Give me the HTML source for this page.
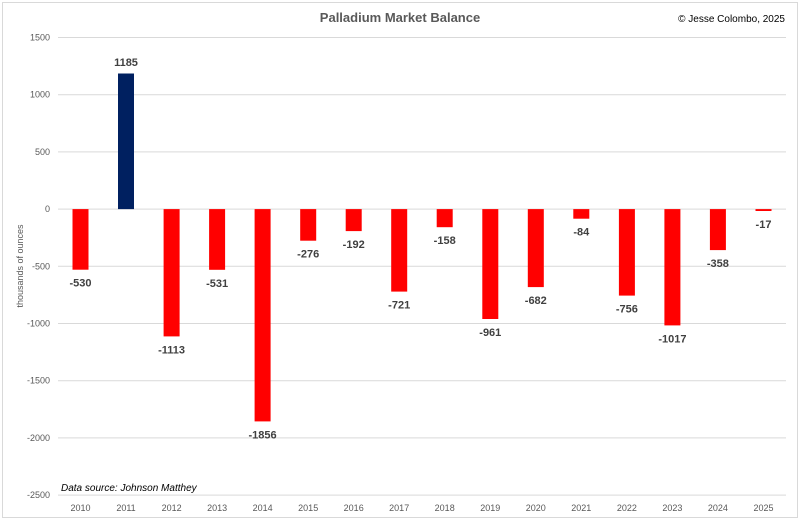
<!DOCTYPE html>
<html><head><meta charset="utf-8"><style>
html,body{margin:0;padding:0;background:#fff;}
svg{display:block;font-family:"Liberation Sans",Calibri,sans-serif;}
</style></head><body>
<svg width="800" height="520" viewBox="0 0 800 520" xmlns="http://www.w3.org/2000/svg">
<rect x="2.5" y="2.5" width="795" height="515" fill="#fff" stroke="#d9d9d9" stroke-width="1"/>
<text x="400" y="22" text-anchor="middle" font-size="13" font-weight="bold" fill="#595959">Palladium Market Balance</text>
<text x="785" y="22" text-anchor="end" font-size="10" fill="#000">© Jesse Colombo, 2025</text>
<g stroke="#d9d9d9" stroke-width="1">
<line x1="58" x2="786" y1="37.5" y2="37.5"/>
<line x1="58" x2="786" y1="94.7" y2="94.7"/>
<line x1="58" x2="786" y1="151.9" y2="151.9"/>
<line x1="58" x2="786" y1="209.1" y2="209.1"/>
<line x1="58" x2="786" y1="266.3" y2="266.3"/>
<line x1="58" x2="786" y1="323.5" y2="323.5"/>
<line x1="58" x2="786" y1="380.7" y2="380.7"/>
<line x1="58" x2="786" y1="437.9" y2="437.9"/>
<line x1="58" x2="786" y1="495.1" y2="495.1"/>
</g>
<g font-size="9" fill="#595959" text-anchor="end">
<text x="50" y="40.5">1500</text><text x="50" y="97.7">1000</text><text x="50" y="154.9">500</text>
<text x="50" y="212.1">0</text><text x="50" y="269.3">-500</text><text x="50" y="326.5">-1000</text>
<text x="50" y="383.7">-1500</text><text x="50" y="440.9">-2000</text><text x="50" y="498.1">-2500</text>
</g>
<text transform="translate(23,266) rotate(-90)" text-anchor="middle" font-size="9" fill="#595959">thousands of ounces</text>
<text x="61" y="491" font-size="10" font-style="italic" fill="#000">Data source: Johnson Matthey</text>
<g fill="#ff0000">
<rect x="72.5" y="209.1" width="16" height="60.6"/>
<rect x="163.6" y="209.1" width="16" height="127.3"/>
<rect x="209.1" y="209.1" width="16" height="60.7"/>
<rect x="254.6" y="209.1" width="16" height="212.3"/>
<rect x="300.2" y="209.1" width="16" height="31.6"/>
<rect x="345.7" y="209.1" width="16" height="22.0"/>
<rect x="391.2" y="209.1" width="16" height="82.5"/>
<rect x="436.7" y="209.1" width="16" height="18.1"/>
<rect x="482.3" y="209.1" width="16" height="109.9"/>
<rect x="527.8" y="209.1" width="16" height="78.0"/>
<rect x="573.3" y="209.1" width="16" height="9.6"/>
<rect x="618.9" y="209.1" width="16" height="86.5"/>
<rect x="664.4" y="209.1" width="16" height="116.3"/>
<rect x="709.9" y="209.1" width="16" height="41.0"/>
<rect x="755.5" y="209.1" width="16" height="1.9"/>
</g>
<rect x="118" y="73.5" width="16" height="135.6" fill="#002060"/>
<g font-size="11" font-weight="bold" fill="#404040" text-anchor="middle">
<text x="80.5" y="286.7">-530</text>
<text x="126" y="66">1185</text>
<text x="171.6" y="353.4">-1113</text>
<text x="217.1" y="286.8">-531</text>
<text x="262.6" y="438.4">-1856</text>
<text x="308.2" y="257.7">-276</text>
<text x="353.7" y="248.1">-192</text>
<text x="399.2" y="308.6">-721</text>
<text x="444.7" y="244.2">-158</text>
<text x="490.3" y="336">-961</text>
<text x="535.8" y="304.1">-682</text>
<text x="581.3" y="235.7">-84</text>
<text x="626.9" y="312.6">-756</text>
<text x="672.4" y="342.4">-1017</text>
<text x="717.9" y="267.1">-358</text>
<text x="763.5" y="228">-17</text>
</g>
<g font-size="9" fill="#595959" text-anchor="middle">
<text x="80.5" y="511">2010</text><text x="126" y="511">2011</text><text x="171.6" y="511">2012</text>
<text x="217.1" y="511">2013</text><text x="262.6" y="511">2014</text><text x="308.2" y="511">2015</text>
<text x="353.7" y="511">2016</text><text x="399.2" y="511">2017</text><text x="444.7" y="511">2018</text>
<text x="490.3" y="511">2019</text><text x="535.8" y="511">2020</text><text x="581.3" y="511">2021</text>
<text x="626.9" y="511">2022</text><text x="672.4" y="511">2023</text><text x="717.9" y="511">2024</text>
<text x="763.5" y="511">2025</text>
</g>
</svg>
</body></html>
